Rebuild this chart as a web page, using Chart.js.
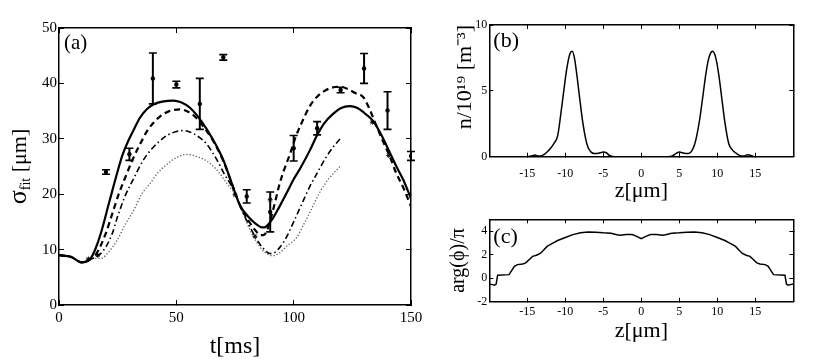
<!DOCTYPE html>
<html><head><meta charset="utf-8">
<script src="https://cdn.jsdelivr.net/npm/chart.js@4.4.1/dist/chart.umd.min.js"></script>
<style>
html,body{margin:0;padding:0;background:#fff;}
#wrap{position:relative;width:830px;height:360px;background:#fff;}
canvas{position:absolute;left:0;top:0;}
</style></head><body>
<div id="wrap">
<canvas id="ca" width="830" height="360"></canvas>
<canvas id="cb" width="830" height="360"></canvas>
<canvas id="cc" width="830" height="360"></canvas>
</div>
<script>
// ---------- Panel (a) data ----------
const tSolid = [0,5,9.7,13.5,15.6,17.8,21.3,24.9,27,29.5,31.7,34.5,37.3,40.2,44,48.7,52,55.8,60.8,65.7,70,74,77.1,81.4,84,86.5,88,90.6,94,97,100,102.7,107,109.8,113,116.8,120,123.9,127,130,133.9,137,141,144,146.7,150];
const ySolid = [9.0,8.7,7.7,8.4,10.2,12.9,18.4,24.0,27.0,29.6,31.5,33.8,35.3,36.2,36.7,36.9,36.6,35.6,33.1,29.8,26.2,21.5,18.0,15.6,14.6,14.0,14.1,15.3,17.8,20.2,22.7,24.6,28.0,30.5,32.8,34.5,35.5,35.9,35.6,34.7,33.2,31.0,27.5,24.8,22.6,19.2];

const tDash = [0,5,9.7,13.5,16,19.9,22.5,25.6,28.5,31.3,34.5,38,43,47,51.6,55,57.2,61.5,65.7,70,74,77.1,81.4,84,86,87.5,89.2,91.5,94.1,96,98.4,101,103,106.9,110,113,116,119.7,123,126,129.7,132.5,135.4,138,141,143.5,146.7,150];
const yDash = [9.0,8.7,7.7,8.3,9.3,12.9,16.2,20.2,23.3,26.2,29.0,31.7,34.0,35.0,35.3,34.9,34.3,32.2,29.6,26.0,21.5,18.0,14.8,13.3,12.6,12.7,14.1,17.6,22.0,24.5,27.2,30.5,32.5,35.9,37.6,38.6,39.2,39.4,39.0,38.3,37.5,35.2,32.2,29.6,26.8,24.0,21.2,17.8];

const tDashDot = [0,5,9.7,13.5,16,18,20,22.7,25,28,32,36,40,43,46,50,53,56,60,63,67.3,70,74.4,78,81.4,84,87.1,89.9,92,94.3,97,100,103,106.9,110,114,117,120];
const yDashDot = [9.0,8.7,7.7,8.3,8.7,9.4,10.5,12.9,16.0,19.5,23.0,26.2,28.4,29.6,30.6,31.3,31.5,31.2,30.2,29.0,26.2,24.0,20.8,17.0,14.1,12.0,10.2,9.3,9.5,10.5,12.3,15.0,17.8,21.4,23.8,26.8,28.6,30.1];

const tDot = [0,5,9.7,13.5,15,17,18.5,21,24.8,28.4,31.7,35.5,38.9,42,46,50,54.5,58,62.9,67,71.5,75.7,78.5,82,85.6,88,91.3,94,97,101.3,104,107,111.2,115,119.7];
const yDot = [9.0,8.7,7.7,8.3,8.4,8.4,8.5,9.5,11.7,14.7,17.0,20.2,22.0,23.8,25.4,26.6,27.2,26.9,26.0,24.5,22.0,19.5,16.5,13.0,10.5,9.4,8.9,9.4,10.6,12.2,14.3,16.8,20.4,22.8,25.0];

const tMeas = [20,30,40,50,60,70,80,90,100,110,120,130,140,150];
const yMeas = [24.0,27.2,40.9,39.8,36.3,44.7,19.6,16.8,28.3,31.9,38.8,42.7,35.1,26.9];
const eMeas = [0.4,1.1,4.6,0.6,4.6,0.5,1.2,3.6,2.3,1.2,0.5,2.7,3.4,0.8];

const tStar = [12.5,16.5,75,83.5,90,133.5,140.5];
const yStar = [8.3,9.0,19.9,12.4,19.0,33.0,27.0];

const tickA_x = [0,50,100,150];
const tickA_y = [0,10,20,30,40,50];

// ---------- Panel (b) data ----------
const zB = [-20,-17,-15,-14.5,-14,-13.5,-13,-12.5,-12,-11.5,-11,-10.6,-10.2,-9.8,-9.4,-9.1,-8.8,-8.5,-8.1,-7.7,-7.3,-7,-6.6,-6.2,-5.8,-5.4,-5,-4.6,-4.2,-3.8,-3,0,3,3.8,4.2,4.6,5,5.4,5.8,6.2,6.6,7,7.3,7.7,8.1,8.5,8.8,9.1,9.4,9.8,10.2,10.6,11,11.5,12,12.5,13,13.5,14,14.5,15,17,20];
const nB = [0,0,0,0.05,0.12,0.05,0.1,0.3,0.6,1.0,1.6,3.2,5.0,6.7,7.8,8.0,7.5,6.3,4.4,2.6,1.3,0.7,0.35,0.25,0.25,0.3,0.35,0.3,0.1,0.02,0,0,0,0.02,0.1,0.25,0.35,0.3,0.25,0.25,0.4,0.9,1.6,2.9,4.6,6.3,7.3,7.85,8.0,7.5,6.2,4.4,2.6,1.0,0.5,0.25,0.08,0.05,0.15,0.08,0,0,0];
const tickB_x = [-15,-10,-5,0,5,10,15];
const tickB_y = [0,5,10];

// ---------- Panel (c) data ----------
const zC = [-20,-19.6,-19.3,-19.1,-18.9,-17.4,-17.1,-16.7,-16.3,-15.6,-15.2,-14.7,-14.3,-13.8,-13.3,-12.9,-12.4,-11.7,-11,-10,-9,-8,-7,-6,-5,-4,-3.2,-2.8,-2,-1.2,-0.6,0,0.6,1.2,2,2.8,3.2,4,5,6,7,8,9,10,11,11.7,12.4,12.9,13.3,13.8,14.3,14.7,15.2,15.6,16.3,16.7,17.1,17.4,18.9,19.1,19.3,19.6,20];
const pC = [-0.5,-0.55,-0.6,-0.5,0.25,0.3,0.6,1.0,1.15,1.2,1.3,1.6,1.85,1.95,2.1,2.35,2.7,2.95,3.2,3.45,3.7,3.85,3.92,3.9,3.85,3.82,3.68,3.65,3.7,3.7,3.55,3.35,3.55,3.7,3.7,3.65,3.68,3.82,3.85,3.9,3.92,3.85,3.7,3.45,3.2,2.95,2.7,2.35,2.1,1.95,1.85,1.6,1.3,1.2,1.15,1.0,0.6,0.3,0.25,-0.5,-0.6,-0.55,-0.5];
const tickC_x = [-15,-10,-5,0,5,10,15];
const tickC_y = [-2,0,2,4];

// ---------- helpers ----------
const SERIF = "'Liberation Serif','Times New Roman',serif";
function pts(xs, ys){ return xs.map((x,i)=>({x:x, y:ys[i]})); }
function mkAxis(o){
  const horiz = (o.pos==='bottom' || o.pos==='top');
  const ax = {
    type:'linear', position:o.pos, min:o.min, max:o.max,
    afterBuildTicks: s => { s.ticks = o.ticks.map(v=>({value:v})); },
    afterFit: s => { if (horiz) s.height = o.size; else s.width = o.size; },
    grid:{display:true, drawOnChartArea:false, drawTicks:true, tickLength:-o.tl, tickWidth:1, tickColor:'#000'},
    border:{display:true, color:'#000', width:1.5},
    ticks:{display:!!o.show, padding:(o.labelPad||0)+o.tl, color:'#000', font:{family:SERIF, size:o.fontSize||11}, maxRotation:0, minRotation:0, autoSkip:false},
    title:{display:false}
  };
  if (o.title) {
    ax.title = {display:true, text:o.title, color:'#000', align:o.align||'center', padding:0,
      font:{family:SERIF, size:o.titleSize, lineHeight:1}};
  }
  return ax;
}
function labelPlugin(text, dx, dy, size){
  return { id:'panelLabel', afterDraw(chart){
    const c = chart.ctx, a = chart.chartArea;
    c.save(); c.fillStyle='#000'; c.font = size+'px '+SERIF;
    c.textAlign='left'; c.textBaseline='middle';
    c.fillText(text, a.left+dx, a.top+dy); c.restore();
  }};
}
const baseOpts = {responsive:false, animation:false, devicePixelRatio:1,
  plugins:{legend:{display:false}, tooltip:{enabled:false}}, events:[]};

// ---------- Chart (a) ----------
const errorBars = { id:'errorBars', afterDatasetsDraw(chart){
  const xs = chart.scales.x, ys = chart.scales.y, c = chart.ctx;
  c.save(); c.strokeStyle='#000';
  tMeas.forEach((t,i)=>{
    const px = xs.getPixelForValue(t);
    const y1 = ys.getPixelForValue(yMeas[i]+eMeas[i]);
    const y2 = ys.getPixelForValue(yMeas[i]-eMeas[i]);
    c.lineWidth = 2;
    c.beginPath(); c.moveTo(px,y1); c.lineTo(px,y2); c.stroke();
    c.lineWidth = 1.6;
    c.beginPath(); c.moveTo(px-4,y1); c.lineTo(px+4,y1); c.moveTo(px-4,y2); c.lineTo(px+4,y2); c.stroke();
  });
  c.restore();
}};
const sigmaTitle = { id:'sigmaTitle', afterDraw(chart){
  const c = chart.ctx, a = chart.chartArea;
  const cy = (a.top+a.bottom)/2, bx = 26;
  c.save(); c.fillStyle='#000'; c.textBaseline='alphabetic'; c.textAlign='left';
  const f1 = '26px '+SERIF, f2 = '14px '+SERIF, f3 = '22px '+SERIF;
  c.font=f1; const w1 = c.measureText('σ').width;
  c.font=f2; const w2 = c.measureText('fit').width;
  c.font=f3; const w3 = c.measureText(' [μm]').width;
  const W = w1+w2+w3;
  c.translate(bx, cy); c.rotate(-Math.PI/2);
  let x = -W/2;
  c.font=f1; c.fillText('σ', x, 0); x+=w1;
  c.font=f2; c.fillText('fit', x, 4); x+=w2;
  c.font=f3; c.fillText(' [μm]', x, 0);
  c.restore();
}};

new Chart(document.getElementById('ca'), {
  type:'line',
  data:{datasets:[
    {data:pts(tMeas,yMeas), showLine:false, pointRadius:2.2, pointBackgroundColor:'#000', pointBorderColor:'#000', pointBorderWidth:0},
    {data:pts(tStar,yStar), showLine:false, pointStyle:'star', pointRadius:2.5, pointBorderColor:'#000', pointBorderWidth:1},
    {data:pts(tSolid,ySolid), borderColor:'#000', borderWidth:2.2, pointRadius:0, cubicInterpolationMode:'monotone', fill:false},
    {data:pts(tDash,yDash), borderColor:'#000', borderWidth:2.2, borderDash:[6,4], pointRadius:0, cubicInterpolationMode:'monotone', fill:false},
    {data:pts(tDashDot,yDashDot), borderColor:'#000', borderWidth:1.6, borderDash:[6,3,1.5,3], pointRadius:0, cubicInterpolationMode:'monotone', fill:false},
    {data:pts(tDot,yDot), borderColor:'#555', borderWidth:1.3, borderDash:[1.2,2], pointRadius:0, cubicInterpolationMode:'monotone', fill:false}
  ]},
  options:Object.assign({}, baseOpts, {
    layout:{padding:{left:5, top:28, right:419, bottom:1}},
    scales:{
      x: mkAxis({pos:'bottom', min:0, max:150, ticks:tickA_x, show:true, size:54, labelPad:4, fontSize:15, tl:5, title:'t[ms]', titleSize:24}),
      x2: mkAxis({pos:'top', min:0, max:150, ticks:tickA_x, show:false, size:0, tl:5}),
      y: mkAxis({pos:'left', min:0, max:50, ticks:tickA_y, show:true, size:54, labelPad:2, fontSize:15, tl:5}),
      y2: mkAxis({pos:'right', min:0, max:50, ticks:tickA_y, show:false, size:0, tl:5})
    }
  }),
  plugins:[errorBars, sigmaTitle, labelPlugin('(a)', 5, 15, 21)]
});

// ---------- Chart (b) ----------
new Chart(document.getElementById('cb'), {
  type:'line',
  data:{datasets:[
    {data:pts(zB,nB), borderColor:'#000', borderWidth:1.5, pointRadius:0, cubicInterpolationMode:'monotone', fill:false}
  ]},
  options:Object.assign({}, baseOpts, {
    layout:{padding:{left:454.5, top:25, right:36.7, bottom:157.3}},
    scales:{
      x: mkAxis({pos:'bottom', min:-20, max:20, ticks:tickB_x, show:true, size:46, labelPad:10, fontSize:12, tl:4, title:'z[μm]', titleSize:22}),
      x2: mkAxis({pos:'top', min:-20, max:20, ticks:tickB_x, show:false, size:0, tl:4}),
      y: mkAxis({pos:'left', min:0, max:10, ticks:tickB_y, show:true, size:34.8, labelPad:2, fontSize:12, tl:4, title:'n/10¹⁹ [m⁻³]', titleSize:22, align:'end'}),
      y2: mkAxis({pos:'right', min:0, max:10, ticks:tickB_y, show:false, size:0, tl:4})
    }
  }),
  plugins:[labelPlugin('(b)', 4, 16, 22)]
});

// ---------- Chart (c) ----------
new Chart(document.getElementById('cc'), {
  type:'line',
  data:{datasets:[
    {data:pts(zC,pC), borderColor:'#000', borderWidth:1.5, pointRadius:0, tension:0, fill:false}
  ]},
  options:Object.assign({}, baseOpts, {
    layout:{padding:{left:448.3, top:219.3, right:36.7, bottom:17.3}},
    scales:{
      x: mkAxis({pos:'bottom', min:-20, max:20, ticks:tickC_x, show:true, size:41, labelPad:3, fontSize:12, tl:4, title:'z[μm]', titleSize:22}),
      x2: mkAxis({pos:'top', min:-20, max:20, ticks:tickC_x, show:false, size:0, tl:4}),
      y: mkAxis({pos:'left', min:-2, max:5, ticks:tickC_y, show:true, size:41, labelPad:2, fontSize:12, tl:4, title:'arg(ϕ)/π', titleSize:20}),
      y2: mkAxis({pos:'right', min:-2, max:5, ticks:tickC_y, show:false, size:0, tl:4})
    }
  }),
  plugins:[labelPlugin('(c)', 4, 18, 22)]
});
</script>
</body></html>
